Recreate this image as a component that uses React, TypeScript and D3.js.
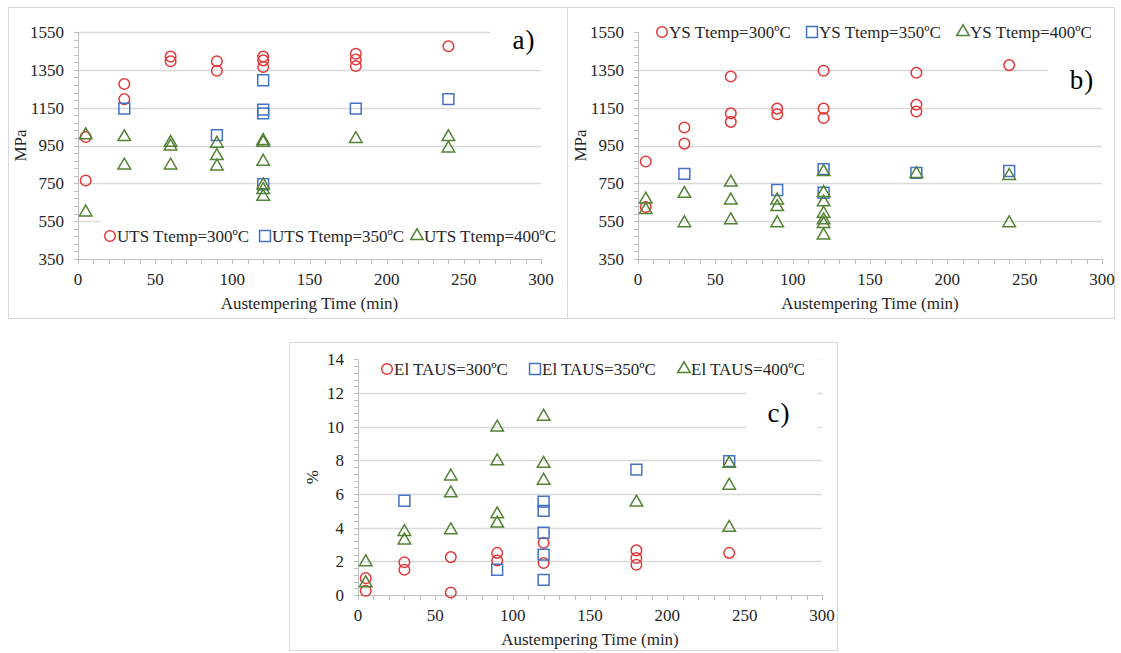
import * as React from 'react';
import * as d3 from 'd3';

type Pt = [number, number];

// Austempering time (min) vs UTS (MPa)
const utsT300: Pt[] = [[5, 995], [5, 765], [30, 1275], [30, 1195], [60, 1420], [60, 1395], [90, 1395], [90, 1345], [120, 1420], [120, 1400], [120, 1365], [180, 1435], [180, 1405], [180, 1370], [240, 1475]];
const utsT350: Pt[] = [[30, 1145], [90, 1005], [120, 1295], [120, 1140], [120, 1120], [120, 745], [180, 1145], [240, 1195]];
const utsT400: Pt[] = [[5, 1005], [5, 597], [30, 995], [30, 845], [60, 965], [60, 945], [60, 845], [90, 960], [90, 895], [90, 840], [120, 975], [120, 965], [120, 865], [120, 740], [120, 715], [120, 680], [180, 985], [240, 995], [240, 935]];

// YS (MPa)
const ysT300: Pt[] = [[5, 865], [5, 625], [30, 1045], [30, 960], [60, 1315], [60, 1120], [60, 1075], [90, 1145], [90, 1115], [120, 1345], [120, 1145], [120, 1095], [180, 1335], [180, 1165], [180, 1130], [240, 1375]];
const ysT350: Pt[] = [[30, 800], [90, 715], [120, 825], [120, 700], [180, 805], [240, 815]];
const ysT400: Pt[] = [[5, 665], [5, 610], [30, 695], [30, 540], [60, 755], [60, 660], [60, 555], [90, 660], [90, 625], [90, 540], [120, 810], [120, 700], [120, 650], [120, 590], [120, 555], [120, 535], [120, 475], [180, 800], [240, 790], [240, 540]];

// Elongation (%)
const elT300: Pt[] = [[5, 1.0], [5, 0.25], [30, 1.95], [30, 1.5], [60, 2.25], [60, 0.15], [90, 2.5], [90, 2.05], [120, 3.1], [120, 1.9], [180, 2.65], [180, 2.2], [180, 1.8], [240, 2.5]];
const elT350: Pt[] = [[30, 5.6], [90, 1.5], [120, 5.55], [120, 5.0], [120, 3.7], [120, 2.4], [120, 0.9], [180, 7.45], [240, 7.95]];
const elT400: Pt[] = [[5, 1.95], [5, 0.7], [30, 3.75], [30, 3.25], [60, 7.05], [60, 6.05], [60, 3.85], [90, 9.95], [90, 7.95], [90, 4.8], [90, 4.25], [120, 10.6], [120, 7.8], [120, 6.8], [180, 5.5], [240, 7.8], [240, 6.5], [240, 4.0]];

const timeTicks = [0, 50, 100, 150, 200, 250, 300];
const mpaTicks = [350, 550, 750, 950, 1150, 1350, 1550];
const elTicks = [0, 2, 4, 6, 8, 10, 12, 14];

const utsLabels = ['UTS Ttemp=300ºC', 'UTS Ttemp=350ºC', 'UTS Ttemp=400ºC'];
const ysLabels = ['YS Ttemp=300ºC', 'YS Ttemp=350ºC', 'YS Ttemp=400ºC'];
const elLabels = ['El TAUS=300ºC', 'El TAUS=350ºC', 'El TAUS=400ºC'];

const RED = '#e0393b';
const BLUE = '#4472c4';
const GREEN = '#548235';
const FONT = '"Liberation Serif", "Times New Roman", serif';
const GRID = '#d9d9d9';
const AXIS = '#bfbfbf';

type Shape = 'circle' | 'square' | 'triangle';
const shapes: Shape[] = ['circle', 'square', 'triangle'];
const colors = [RED, BLUE, GREEN];

function markerPath(shape: Shape) {
    if (shape == 'circle') return d3.symbol().type(d3.symbolCircle).size(88)()!;
    if (shape == 'square') return d3.symbol().type(d3.symbolSquare).size(118)()!;
    return d3.symbol().type(d3.symbolTriangle).size(68)()!;
}

interface Box { x: number; y: number; w: number; h: number; }

interface PanelProps {
    frame: Box;
    left: number; right: number; top: number; bottom: number;
    yDomain: [number, number];
    yTicks: number[];
    yMinor: number;
    yTitle: string;
    yTitleX: number;
    series: Pt[][];
    labels: string[];
    legendY: number;
    legendX: number[];
    legendBox: Box;
    tag: string;
    tagX: number;
    tagY: number;
    tagBox: Box;
}

function Panel(p: PanelProps) {
    const x = d3.scaleLinear().domain([0, 300]).range([p.left, p.right]);
    const y = d3.scaleLinear().domain(p.yDomain).range([p.bottom, p.top]);
    const xMinor = d3.range(0, 300.001, 10);
    const yMinor = d3.range(p.yDomain[0], p.yDomain[1] + 1e-6, p.yMinor);

    return (
        <g fontFamily={FONT}>
            <rect x={p.frame.x + 0.5} y={p.frame.y + 0.5} width={p.frame.w} height={p.frame.h} fill="white" stroke={GRID} />
            {/* gridlines */}
            {p.yTicks.slice(1).map(t => (
                <line key={t} x1={p.left} x2={p.right} y1={Math.round(y(t)) + 0.5} y2={Math.round(y(t)) + 0.5} stroke={GRID} strokeWidth={1.3} />
            ))}
            {/* axes */}
            <line x1={p.left} x2={p.right} y1={p.bottom + 0.5} y2={p.bottom + 0.5} stroke={AXIS} />
            <line x1={p.left + 0.5} x2={p.left + 0.5} y1={p.top} y2={p.bottom} stroke={AXIS} />
            {xMinor.map(t => (
                <line key={'xm' + t} x1={Math.round(x(t)) + 0.5} x2={Math.round(x(t)) + 0.5} y1={p.bottom} y2={p.bottom + 5} stroke={AXIS} />
            ))}
            {yMinor.map(t => (
                <line key={'ym' + t} x1={p.left - 4} x2={p.left} y1={Math.round(y(t)) + 0.5} y2={Math.round(y(t)) + 0.5} stroke={AXIS} />
            ))}
            {timeTicks.map(t => (
                <text key={'xt' + t} x={x(t)} y={p.bottom + 26} textAnchor="middle" fontSize={17} fill="#262626">{t}</text>
            ))}
            {p.yTicks.map(t => (
                <text key={'yt' + t} x={p.left - 14} y={y(t)} dy="0.35em" textAnchor="end" fontSize={17} fill="#262626">{t}</text>
            ))}
            <text x={(p.left + p.right) / 2} y={p.bottom + 50} textAnchor="middle" fontSize={17} fill="#262626">Austempering Time (min)</text>
            <text transform={`translate(${p.yTitleX},${(p.top + p.bottom) / 2}) rotate(-90)`} dy="0.35em" textAnchor="middle" fontSize={17} fill="#262626">{p.yTitle}</text>

            {/* points */}
            {p.series.map((s, i) => (
                <g key={'s' + i}>
                    {s.map((d, j) => (
                        <path key={j} d={markerPath(shapes[i])} transform={`translate(${x(d[0])},${y(d[1])})`} fill="none" stroke={colors[i]} strokeWidth={1.5} />
                    ))}
                </g>
            ))}

            {/* legend */}
            <rect x={p.legendBox.x} y={p.legendBox.y} width={p.legendBox.w} height={p.legendBox.h} fill="white" />
            {p.labels.map((l, i) => (
                <g key={'l' + i}>
                    <path d={markerPath(shapes[i])} transform={`translate(${p.legendX[i]},${p.legendY})`} fill="none" stroke={colors[i]} strokeWidth={1.5} />
                    <text x={p.legendX[i] + 7} y={p.legendY} dy="0.35em" fontSize={17} fill="#262626">{l}</text>
                </g>
            ))}

            {/* panel tag */}
            <rect x={p.tagBox.x} y={p.tagBox.y} width={p.tagBox.w} height={p.tagBox.h} fill="white" />
            <text x={p.tagX} y={p.tagY} dy="0.35em" textAnchor="middle" fontSize={27} letterSpacing={1} fill="#000">{p.tag}</text>
        </g>
    );
}

export default function App() {
    return (
        <svg width={1121} height={653} style={{ position: 'absolute', left: 0, top: 0, background: 'white' }}>
            <Panel
                frame={{ x: 8, y: 7, w: 559, h: 311 }}
                left={78} right={541} top={32} bottom={259}
                yDomain={[350, 1550]} yTicks={mpaTicks} yMinor={40}
                yTitle="MPa" yTitleX={20}
                series={[utsT300, utsT350, utsT400]} labels={utsLabels}
                legendY={236} legendX={[110, 265, 417]}
                legendBox={{ x: 100, y: 220, w: 445, h: 32 }}
                tag="a)" tagX={524} tagY={40} tagBox={{ x: 490, y: 18, w: 56, h: 40 }}
            />
            <Panel
                frame={{ x: 567, y: 7, w: 547, h: 311 }}
                left={638} right={1102} top={32} bottom={259}
                yDomain={[350, 1550]} yTicks={mpaTicks} yMinor={40}
                yTitle="MPa" yTitleX={580}
                series={[ysT300, ysT350, ysT400]} labels={ysLabels}
                legendY={32} legendX={[662, 812, 963]}
                legendBox={{ x: 639, y: 20, w: 465, h: 26 }}
                tag="b)" tagX={1082} tagY={80} tagBox={{ x: 1048, y: 58, w: 58, h: 40 }}
            />
            <Panel
                frame={{ x: 289, y: 342, w: 548, h: 308 }}
                left={358} right={822} top={359.3} bottom={595}
                yDomain={[0, 14]} yTicks={elTicks} yMinor={0.4}
                yTitle="%" yTitleX={312}
                series={[elT300, elT350, elT400]} labels={elLabels}
                legendY={369} legendX={[387, 535, 684]}
                legendBox={{ x: 359, y: 356, w: 462, h: 27 }}
                tag="c)" tagX={779} tagY={413} tagBox={{ x: 746, y: 391, w: 71, h: 38 }}
            />
        </svg>
    );
}
